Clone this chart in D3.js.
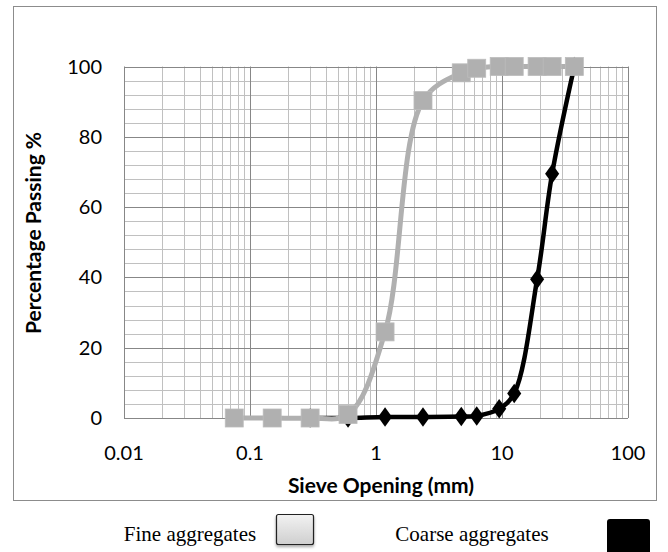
<!DOCTYPE html>
<html>
<head>
<meta charset="utf-8">
<script src="https://cdn.jsdelivr.net/npm/d3@7"></script>
<style>
  body { margin: 0; background: #fff; }
  svg { display: block; }
</style>
</head>
<body>
<div id="chart"></div>
<script>
// sieve sizes (mm) and percentage passing
const fineSieves = [0.075, 0.15, 0.3, 0.6, 1.18, 2.36, 4.75, 6.3, 9.5, 12.5, 19, 25, 37.5];
const finePassing = [0, 0, 0, 1, 24.5, 90.3, 98.2, 99.5, 100, 100, 100, 100, 100];
const coarseSieves = [0.3, 0.6, 1.18, 2.36, 4.75, 6.3, 9.5, 12.5, 19, 25, 37.5];
const coarsePassing = [0, 0, 0.3, 0.3, 0.4, 0.6, 2.6, 7, 39.5, 69.5, 100];
const xTicks = [0.01, 0.1, 1, 10, 100];
const yTicks = [0, 20, 40, 60, 80, 100];
const legendLabels = ["Fine aggregates", "Coarse aggregates"];

const W = 668, H = 552;
const svg = d3.select("#chart").append("svg")
  .attr("width", W).attr("height", H);

// outer chart border
svg.append("rect")
  .attr("x", 13.5).attr("y", 6.5)
  .attr("width", 643).attr("height", 494)
  .attr("fill", "#fff").attr("stroke", "#8c8c8c").attr("stroke-width", 1);

const x = d3.scaleLog().domain([0.01, 100]).range([124, 628]);
const y = d3.scaleLinear().domain([0, 100]).range([418, 66.5]);

// grid: minor first, then majors on top
const g = svg.append("g");
const minorX = [];
for (let d = 0.01; d < 100; d *= 10) {
  for (let k = 2; k <= 9; k++) minorX.push(d * k);
}
g.selectAll(".mx").data(minorX).enter().append("line")
  .attr("x1", d => Math.round(x(d)) + 0.5).attr("x2", d => Math.round(x(d)) + 0.5)
  .attr("y1", y(0)).attr("y2", y(100))
  .attr("stroke", "#c0c0c0").attr("stroke-width", 1);
const minorY = d3.range(0, 101, 4).filter(v => v % 20 !== 0);
g.selectAll(".my").data(minorY).enter().append("line")
  .attr("y1", d => Math.round(y(d)) + 0.5).attr("y2", d => Math.round(y(d)) + 0.5)
  .attr("x1", x(0.01)).attr("x2", x(100))
  .attr("stroke", "#c0c0c0").attr("stroke-width", 1);
g.selectAll(".Mx").data(xTicks).enter().append("line")
  .attr("x1", d => Math.round(x(d)) + 0.5).attr("x2", d => Math.round(x(d)) + 0.5)
  .attr("y1", y(0)).attr("y2", y(100))
  .attr("stroke", "#878787").attr("stroke-width", 1);
g.selectAll(".My").data(yTicks).enter().append("line")
  .attr("y1", d => Math.round(y(d)) + 0.5).attr("y2", d => Math.round(y(d)) + 0.5)
  .attr("x1", x(0.01)).attr("x2", x(100))
  .attr("stroke", "#878787").attr("stroke-width", 1);

// axes labels
const font = "Lato, 'Open Sans', sans-serif";
svg.selectAll(".yl").data(yTicks).enter().append("text")
  .attr("x", 102).attr("y", d => y(d))
  .attr("dy", "0.35em").attr("text-anchor", "end")
  .attr("font-family", font).attr("font-size", 20).attr("fill", "#000")
  .text(d => d);
svg.selectAll(".xl").data(xTicks).enter().append("text")
  .attr("x", d => x(d)).attr("y", 452.5)
  .attr("dy", "0.35em").attr("text-anchor", "middle")
  .attr("font-family", font).attr("font-size", 20).attr("fill", "#000")
  .text(d => d);

svg.append("text")
  .attr("x", 381).attr("y", 493)
  .attr("text-anchor", "middle")
  .attr("font-family", font).attr("font-size", 21).attr("font-weight", "bold")
  .text("Sieve Opening (mm)");
svg.append("text")
  .attr("transform", "translate(34,233) rotate(-90)")
  .attr("dy", "0.35em").attr("text-anchor", "middle")
  .attr("font-family", font).attr("font-size", 21).attr("font-weight", "bold")
  .text("Percentage Passing %");

// series
const line = d3.line()
  .x(d => x(d[0])).y(d => y(d[1]))
  .curve(d3.curveCatmullRom.alpha(0.5));

const coarse = coarseSieves.map((s, i) => [s, coarsePassing[i]]);
const fine = fineSieves.map((s, i) => [s, finePassing[i]]);

svg.append("path").datum(coarse)
  .attr("d", line).attr("fill", "none")
  .attr("stroke", "#000").attr("stroke-width", 4.5);
svg.selectAll(".dia").data(coarse).enter().append("path")
  .attr("d", d3.symbol(d3.symbolDiamond, 110))
  .attr("transform", d => `translate(${x(d[0])},${y(d[1])}) scale(1.25,1)`)
  .attr("fill", "#000");

svg.append("path").datum(fine)
  .attr("d", line).attr("fill", "none")
  .attr("stroke", "#b0b0b0").attr("stroke-width", 5);
svg.selectAll(".sq").data(fine).enter().append("rect")
  .attr("x", d => x(d[0]) - 9).attr("y", d => y(d[1]) - 9)
  .attr("width", 18).attr("height", 18)
  .attr("fill", "#b0b0b0").attr("stroke", "#bcbcbc").attr("stroke-width", 0.8);

// legend (below chart border)
const defs = svg.append("defs");
const grad = defs.append("linearGradient").attr("id", "lg")
  .attr("x1", 0).attr("y1", 0).attr("x2", 0).attr("y2", 1);
grad.append("stop").attr("offset", 0).attr("stop-color", "#f2f2f2");
grad.append("stop").attr("offset", 1).attr("stop-color", "#cfcfcf");
const shadow = defs.append("filter").attr("id", "sh")
  .attr("x", -0.3).attr("y", -0.3).attr("width", 1.6).attr("height", 1.6);
shadow.append("feDropShadow").attr("dx", 0).attr("dy", 2).attr("stdDeviation", 1.5)
  .attr("flood-color", "#000").attr("flood-opacity", 0.35);

const serif = "'Liberation Serif', 'Times New Roman', serif";
svg.append("text").attr("x", 190).attr("y", 541)
  .attr("text-anchor", "middle").attr("font-family", serif).attr("font-size", 21)
  .text(legendLabels[0]);
svg.append("rect").attr("x", 276.5).attr("y", 514.5).attr("width", 37).attr("height", 30)
  .attr("rx", 2).attr("fill", "url(#lg)").attr("stroke", "#222").attr("stroke-width", 1.2)
  .attr("filter", "url(#sh)");
svg.append("text").attr("x", 472).attr("y", 541)
  .attr("text-anchor", "middle").attr("font-family", serif).attr("font-size", 21)
  .text(legendLabels[1]);
svg.append("rect").attr("x", 607).attr("y", 519).attr("width", 43).attr("height", 40)
  .attr("rx", 3).attr("fill", "#000");
</script>
</body>
</html>
